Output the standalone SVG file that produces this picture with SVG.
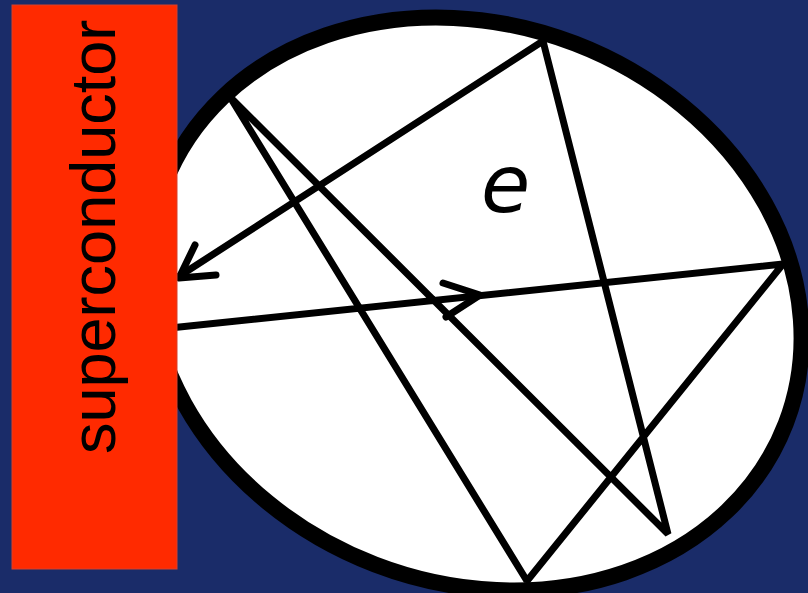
<svg xmlns="http://www.w3.org/2000/svg" width="808" height="593" viewBox="0 0 808 593">
  <style>
    .path { fill: none; stroke: #000; stroke-width: 7; stroke-linejoin: bevel; stroke-linecap: butt; }
    .arrow { fill: none; stroke: #000; stroke-width: 7; stroke-linejoin: round; stroke-linecap: round; }
    .label { font-family: "Liberation Sans", Arial, sans-serif; font-size: 63px; fill: #000; }
    .e { font-family: "Comic Sans MS", "DejaVu Sans", sans-serif; font-style: italic; font-size: 80px; fill: #000; }
  </style>
  <rect x="0" y="0" width="808" height="593" fill="#1a2c69"/>
  <g id="dot">
    <ellipse cx="475" cy="304" rx="333" ry="279" transform="rotate(21 475 304)" fill="#fff"/>
  </g>
  <g id="connectors">
    <polyline class="path" points="170,328 783,264 527,581 230,97 668,534 543,41 178,277"/>
    <polyline class="arrow" points="443,283 480,295 446,317"/>
    <polyline class="arrow" points="195,245 179,278 216,275"/>
  </g>
  <g id="dot-border">
    <ellipse cx="475" cy="304" rx="333" ry="279" transform="rotate(21 475 304)" fill="none" stroke="#000" stroke-width="16"/>
  </g>
  <g id="superconductor">
    <rect x="12" y="5" width="165" height="564" fill="#ff2a00" stroke="#d8402a" stroke-width="1"/>
    <text class="label" transform="translate(115,454) rotate(-90)">superconductor</text>
  </g>
  <g id="electron">
    <text class="e" x="481" y="212">e</text>
  </g>
</svg>
